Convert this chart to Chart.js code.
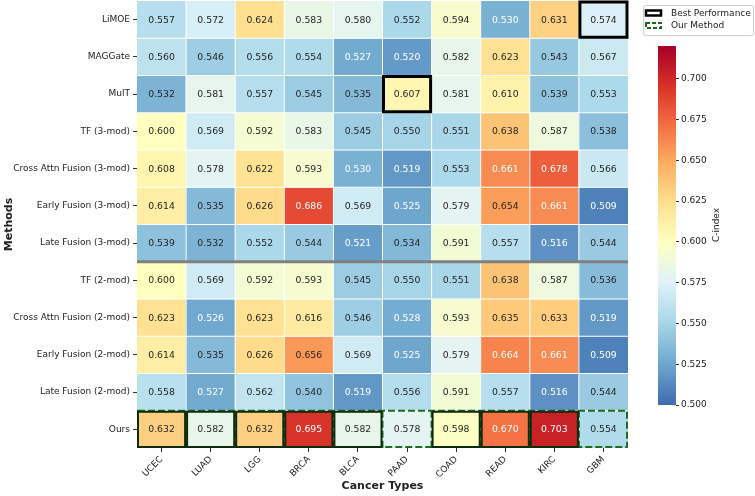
<!DOCTYPE html>
<html lang="en">
<head>
<meta charset="UTF-8">
<title>C-index heatmap</title>
<script src="https://cdn.jsdelivr.net/npm/chart.js@4.4.1/dist/chart.umd.min.js"></script>
<style>
    html, body { margin: 0; padding: 0; background: #fff; }
    .wrap { position: relative; width: 755px; height: 496px; }
    .wrap canvas { position: absolute; left: 0; top: 0; }
</style>
</head>
<body>
<div class="wrap">
    <canvas id="heat" width="755" height="496"></canvas>
    <canvas id="cbar" width="755" height="496"></canvas>
</div>
<script>
const methods = ['LiMOE', 'MAGGate', 'MulT', 'TF (3-mod)', 'Cross Attn Fusion (3-mod)', 'Early Fusion (3-mod)',
    'Late Fusion (3-mod)', 'TF (2-mod)', 'Cross Attn Fusion (2-mod)', 'Early Fusion (2-mod)', 'Late Fusion (2-mod)', 'Ours'];
const cancers = ['UCEC', 'LUAD', 'LGG', 'BRCA', 'BLCA', 'PAAD', 'COAD', 'READ', 'KIRC', 'GBM'];

const limoe      = [0.557, 0.572, 0.624, 0.583, 0.580, 0.552, 0.594, 0.530, 0.631, 0.574];
const maggate    = [0.560, 0.546, 0.556, 0.554, 0.527, 0.520, 0.582, 0.623, 0.543, 0.567];
const mult       = [0.532, 0.581, 0.557, 0.545, 0.535, 0.607, 0.581, 0.610, 0.539, 0.553];
const tf3        = [0.600, 0.569, 0.592, 0.583, 0.545, 0.550, 0.551, 0.638, 0.587, 0.538];
const crossAttn3 = [0.608, 0.578, 0.622, 0.593, 0.530, 0.519, 0.553, 0.661, 0.678, 0.566];
const early3     = [0.614, 0.535, 0.626, 0.686, 0.569, 0.525, 0.579, 0.654, 0.661, 0.509];
const late3      = [0.539, 0.532, 0.552, 0.544, 0.521, 0.534, 0.591, 0.557, 0.516, 0.544];
const tf2        = [0.600, 0.569, 0.592, 0.593, 0.545, 0.550, 0.551, 0.638, 0.587, 0.536];
const crossAttn2 = [0.623, 0.526, 0.623, 0.616, 0.546, 0.528, 0.593, 0.635, 0.633, 0.519];
const early2     = [0.614, 0.535, 0.626, 0.656, 0.569, 0.525, 0.579, 0.664, 0.661, 0.509];
const late2      = [0.558, 0.527, 0.562, 0.540, 0.519, 0.556, 0.591, 0.557, 0.516, 0.544];
const ours       = [0.632, 0.582, 0.632, 0.695, 0.582, 0.578, 0.598, 0.670, 0.703, 0.554];

const rows = [limoe, maggate, mult, tf3, crossAttn3, early3, late3, tf2, crossAttn2, early2, late2, ours];
const cbTicks = [0.500, 0.525, 0.550, 0.575, 0.600, 0.625, 0.650, 0.675, 0.700];

// RdYlBu_r, centred at 0.6 (range 0.48 .. 0.72)
const stops = ['#313695', '#4575b4', '#74add1', '#abd9e9', '#e0f3f8', '#ffffbf',
               '#fee090', '#fdae61', '#f46d43', '#d73027', '#a50026'];
const cLow = 0.48, cHigh = 0.72;

function hexRgb(h) {
    return [parseInt(h.slice(1, 3), 16), parseInt(h.slice(3, 5), 16), parseInt(h.slice(5, 7), 16)];
}
function cmapRgb(v) {
    let t = (v - cLow) / (cHigh - cLow);
    t = Math.max(0, Math.min(1, t)) * (stops.length - 1);
    const i = Math.min(Math.floor(t), stops.length - 2);
    const f = t - i;
    const a = hexRgb(stops[i]), b = hexRgb(stops[i + 1]);
    return a.map((c, k) => Math.round(c + (b[k] - c) * f));
}
function cmap(v) {
    const c = cmapRgb(v);
    return 'rgb(' + c.join(',') + ')';
}
function textColor(v) {
    const lin = cmapRgb(v).map(c => {
        c = c / 255;
        return c <= 0.03928 ? c / 12.92 : Math.pow((c + 0.055) / 1.055, 2.4);
    });
    const lum = 0.2126 * lin[0] + 0.7152 * lin[1] + 0.0722 * lin[2];
    return lum > 0.408 ? '#262626' : '#ffffff';
}

Chart.defaults.font.family = 'DejaVu Sans';
Chart.defaults.color = '#222';

const best = cancers.map((c, j) => Math.max(...rows.map(r => r[j])));

const cellPlugin = {
    id: 'cells',
    afterDatasetsDraw(chart) {
        const ctx = chart.ctx, x = chart.scales.x, y = chart.scales.y;
        const left = x.left, right = x.right, top = y.getPixelForValue(0), bottom = y.getPixelForValue(rows.length);
        ctx.save();
        // white cell separators
        ctx.strokeStyle = '#ffffff';
        ctx.lineWidth = 1;
        ctx.beginPath();
        for (let c = 1; c < cancers.length; c++) {
            const px = x.getPixelForValue(c - 0.5);
            ctx.moveTo(px, top); ctx.lineTo(px, bottom);
        }
        for (let r = 1; r < rows.length; r++) {
            const py = y.getPixelForValue(r);
            ctx.moveTo(left, py); ctx.lineTo(right, py);
        }
        ctx.stroke();
        // group separator
        ctx.strokeStyle = '#808080';
        ctx.lineWidth = 3;
        ctx.beginPath();
        ctx.moveTo(left, y.getPixelForValue(7));
        ctx.lineTo(right, y.getPixelForValue(7));
        ctx.stroke();
        // values
        ctx.font = '9.3px "DejaVu Sans"';
        ctx.textAlign = 'center';
        ctx.textBaseline = 'middle';
        rows.forEach((vals, r) => {
            const cy = (y.getPixelForValue(r) + y.getPixelForValue(r + 1)) / 2;
            vals.forEach((v, c) => {
                ctx.fillStyle = textColor(v);
                ctx.fillText(v.toFixed(3), x.getPixelForValue(c), cy + 0.5);
            });
        });
        // our method: dashed green frame
        const last = rows.length - 1;
        const oy0 = y.getPixelForValue(last), oy1 = y.getPixelForValue(last + 1);
        ctx.strokeStyle = '#1e6b1e';
        ctx.lineWidth = 2;
        ctx.setLineDash([7, 3]);
        ctx.strokeRect(left + 1, oy0, right - left - 2, oy1 - oy0 - 1);
        for (let c = 1; c < cancers.length; c++) {
            const px = x.getPixelForValue(c - 0.5);
            ctx.beginPath(); ctx.moveTo(px, oy0); ctx.lineTo(px, oy1); ctx.stroke();
        }
        ctx.setLineDash([]);
        // best performance frames
        rows.forEach((vals, r) => {
            vals.forEach((v, c) => {
                if (v !== best[c]) return;
                const x0 = x.getPixelForValue(c - 0.5), x1 = x.getPixelForValue(c + 0.5);
                const y0 = y.getPixelForValue(r), y1 = y.getPixelForValue(r + 1);
                if (r === last) {
                    ctx.strokeStyle = '#0d2a0d';
                    ctx.lineWidth = 2;
                } else {
                    ctx.strokeStyle = '#000000';
                    ctx.lineWidth = 3;
                }
                ctx.strokeRect(x0 + 1, y0 + 1, x1 - x0 - 2, y1 - y0 - 2);
            });
        });
        // legend
        ctx.fillStyle = 'rgba(255,255,255,0.9)';
        ctx.strokeStyle = '#cccccc';
        ctx.lineWidth = 1;
        ctx.beginPath();
        ctx.roundRect(643.5, 5.5, 110, 30, 2);
        ctx.fill(); ctx.stroke();
        ctx.strokeStyle = '#000000';
        ctx.lineWidth = 2.5;
        ctx.strokeRect(646, 10.5, 15, 5);
        ctx.strokeStyle = '#1e6b1e';
        ctx.lineWidth = 2;
        ctx.setLineDash([4, 2]);
        ctx.strokeRect(646, 23, 15, 5);
        ctx.setLineDash([]);
        ctx.fillStyle = '#222';
        ctx.font = '9px "DejaVu Sans"';
        ctx.textAlign = 'left';
        ctx.textBaseline = 'middle';
        ctx.fillText('Best Performance', 671, 13.5);
        ctx.fillText('Our Method', 671, 26);
        ctx.restore();
    }
};

new Chart(document.getElementById('heat'), {
    type: 'bar',
    data: {
        labels: cancers,
        datasets: rows.map((vals, r) => ({
            label: methods[r],
            data: vals.map(() => [r, r + 1]),
            backgroundColor: vals.map(cmap),
            borderWidth: 0,
            barPercentage: 1,
            categoryPercentage: 1,
            grouped: false
        }))
    },
    options: {
        responsive: false,
        animation: false,
        layout: { padding: { left: 0, top: 1, right: 127, bottom: 0 } },
        plugins: { legend: { display: false }, tooltip: { enabled: false } },
        scales: {
            x: {
                type: 'category',
                offset: true,
                grid: { offset: false, drawOnChartArea: false, tickLength: 4, color: '#333' },
                border: { display: false },
                ticks: { minRotation: 45, maxRotation: 45, autoSkip: false, padding: 2, font: { size: 9 } },
                title: { display: true, text: 'Cancer Types', font: { size: 11, weight: 'bold' }, padding: { top: 0, bottom: 3 } },
                afterFit: s => { s.height = 48; s.paddingLeft = 0; s.paddingRight = 0; }
            },
            y: {
                type: 'linear',
                min: 0,
                max: rows.length,
                reverse: true,
                afterBuildTicks: s => { s.ticks = methods.map((m, i) => ({ value: i + 0.5 })); },
                ticks: { autoSkip: false, padding: 3, font: { size: 9 }, callback: (v, i) => methods[i] },
                grid: { drawOnChartArea: false, tickLength: 4, color: '#333' },
                border: { display: false },
                title: { display: true, text: 'Methods', font: { size: 11, weight: 'bold' }, padding: { top: 3, bottom: 0 } },
                afterFit: s => { s.width = 137; s.paddingTop = 0; s.paddingBottom = 0; }
            }
        }
    },
    plugins: [cellPlugin]
});

const cbarPlugin = {
    id: 'cbarFill',
    beforeDatasetsDraw(chart) {
        const ctx = chart.ctx, y = chart.scales.y, a = chart.chartArea;
        ctx.save();
        for (let py = Math.floor(a.top); py < a.bottom; py++) {
            ctx.fillStyle = cmap(y.getValueForPixel(py + 0.5));
            ctx.fillRect(a.left, py, a.right - a.left, 1);
        }
        ctx.translate(717, 225);
        ctx.rotate(-Math.PI / 2);
        ctx.fillStyle = '#222';
        ctx.font = '9px "DejaVu Sans"';
        ctx.textAlign = 'center';
        ctx.textBaseline = 'middle';
        ctx.fillText('C-index', 0, 0);
        ctx.restore();
    }
};

new Chart(document.getElementById('cbar'), {
    type: 'bar',
    data: { labels: [''], datasets: [] },
    options: {
        responsive: false,
        animation: false,
        layout: { padding: { left: 658, top: 46, right: 39, bottom: 91 } },
        plugins: { legend: { display: false }, tooltip: { enabled: false } },
        scales: {
            x: { display: false },
            y: {
                type: 'linear',
                position: 'right',
                min: 0.5,
                max: 0.72,
                afterBuildTicks: s => { s.ticks = cbTicks.map(v => ({ value: v })); },
                ticks: { padding: 2, font: { size: 9 }, callback: v => v.toFixed(3) },
                grid: { drawOnChartArea: false, tickLength: 3, color: '#333' },
                border: { display: false },
                afterFit: s => { s.width = 40; s.paddingTop = 0; s.paddingBottom = 0; }
            }
        }
    },
    plugins: [cbarPlugin]
});
</script>
</body>
</html>
